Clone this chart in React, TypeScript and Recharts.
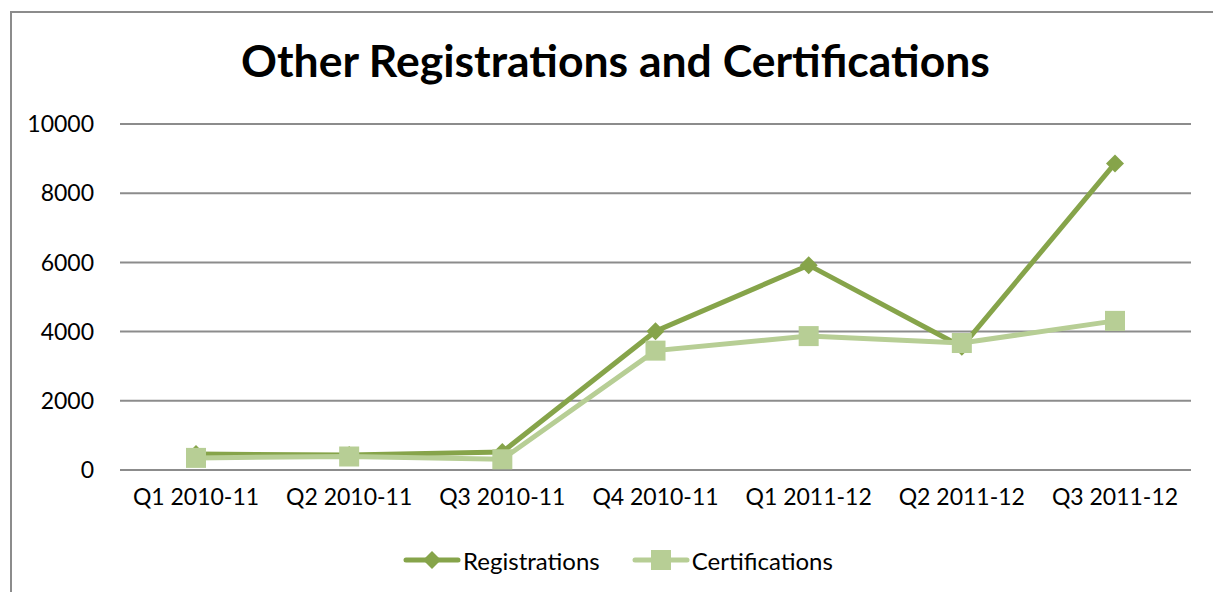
import { LineChart, Line, XAxis, YAxis, CartesianGrid } from 'recharts'

const quarters = ['Q1 2010-11', 'Q2 2010-11', 'Q3 2010-11', 'Q4 2010-11', 'Q1 2011-12', 'Q2 2011-12', 'Q3 2011-12']
const registrations = [460, 430, 520, 4010, 5920, 3560, 8860]
const certifications = [350, 390, 310, 3450, 3870, 3670, 4310]
const yTicks = [0, 2000, 4000, 6000, 8000, 10000]

const REG_COLOR = '#86a44a'
const CERT_COLOR = '#b7ce95'
const FONT = 'Lato, "Open Sans", sans-serif'

const chartData = quarters.map((q, i) => ({
  quarter: q,
  Registrations: registrations[i],
  Certifications: certifications[i],
}))

const Diamond = (props: any) => {
  const { cx, cy } = props
  if (cx == null || cy == null) return null
  const r = 9
  return <path d={`M${cx},${cy - r}L${cx + r},${cy}L${cx},${cy + r}L${cx - r},${cy}Z`} fill={REG_COLOR} />
}

const Square = (props: any) => {
  const { cx, cy } = props
  if (cx == null || cy == null) return null
  return <rect x={cx - 10} y={cy - 10} width={20} height={20} fill={CERT_COLOR} />
}

const legendItems = [
  { name: 'Registrations', color: REG_COLOR, square: false },
  { name: 'Certifications', color: CERT_COLOR, square: true },
]

export default function App() {
  return (
    <div style={{ position: 'absolute', left: 0, top: 0, width: 1213, height: 592, background: '#fff', overflow: 'hidden' }}>
      <div style={{ position: 'absolute', left: 10, top: 11, width: 1210, height: 600, borderLeft: '2px solid #8c8c8c', borderTop: '2px solid #8c8c8c' }} />
      <div style={{ position: 'absolute', left: 0, width: 1231, top: 33, textAlign: 'center', fontFamily: FONT, fontWeight: 700, fontSize: 44.5, color: '#000' }}>
        Other Registrations and Certifications
      </div>
      <LineChart
        width={1213}
        height={592}
        data={chartData}
        margin={{ top: 124, right: 22, bottom: 92, left: 0 }}
        style={{ position: 'absolute', left: 0, top: 0 }}
      >
        <CartesianGrid vertical={false} stroke="#8c8c8c" strokeWidth={2} />
        <XAxis
          dataKey="quarter"
          height={30}
          padding={{ left: 76, right: 76 }}
          tickLine={false}
          axisLine={{ stroke: '#8c8c8c', strokeWidth: 2 }}
          tick={{ fill: '#000', fontSize: 23, fontFamily: FONT }}
          tickMargin={13}
          interval={0}
        />
        <YAxis
          width={120}
          domain={[0, 10000]}
          ticks={yTicks}
          axisLine={false}
          tickLine={false}
          tickSize={0}
          tickMargin={26}
          tick={{ fill: '#000', fontSize: 23, fontFamily: FONT }}
        />
        <Line
          type="linear"
          dataKey="Registrations"
          stroke={REG_COLOR}
          strokeWidth={5}
          dot={<Diamond />}
          activeDot={false}
          isAnimationActive={false}
        />
        <Line
          type="linear"
          dataKey="Certifications"
          stroke={CERT_COLOR}
          strokeWidth={5}
          dot={<Square />}
          activeDot={false}
          isAnimationActive={false}
        />
      </LineChart>
      {/* legend drawn by hand so the markers look like the original */}
      <div style={{ position: 'absolute', left: 0, top: 545, width: 1236, display: 'flex', justifyContent: 'center', gap: 32, fontFamily: FONT, fontSize: 24, color: '#000' }}>
        {legendItems.map(item => (
          <div key={item.name} style={{ display: 'flex', alignItems: 'center' }}>
            <svg width={58} height={30}>
              <line x1={3} y1={15} x2={55} y2={15} stroke={item.color} strokeWidth={5} strokeLinecap="round" />
              {item.square
                ? <rect x={19} y={5} width={20} height={20} fill={item.color} />
                : <path d="M29,6L38,15L29,24L20,15Z" fill={item.color} />}
            </svg>
            <span style={{ marginLeft: 2 }}>{item.name}</span>
          </div>
        ))}
      </div>
    </div>
  )
}
